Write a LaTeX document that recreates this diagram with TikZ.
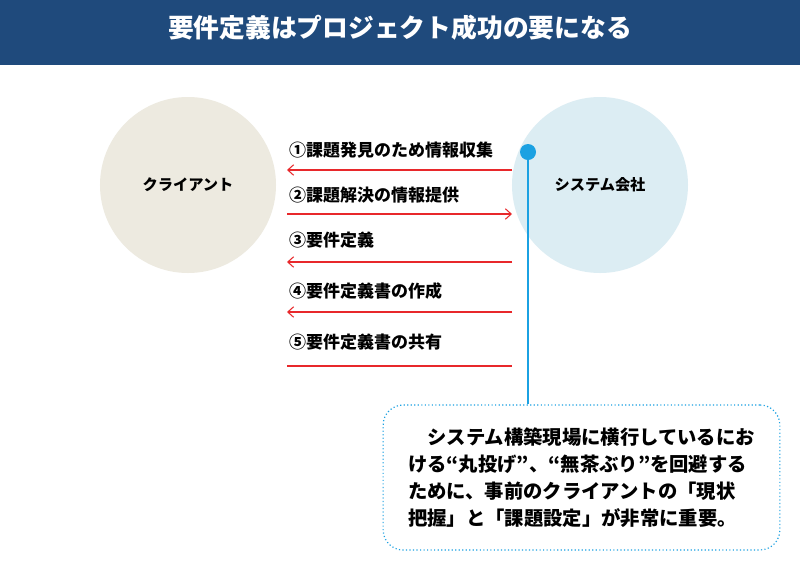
\documentclass[tikz,border=0pt]{standalone}
\usepackage{fontspec}
\setmainfont{Noto Sans CJK JP}
\usetikzlibrary{positioning,arrows.meta}
\definecolor{titleblue}{HTML}{1F4A7C}
\definecolor{clientbg}{HTML}{EDEAE0}
\definecolor{systembg}{HTML}{DCEDF3}
\definecolor{dotblue}{HTML}{1BA1E2}
\definecolor{arrowred}{HTML}{E8282B}
\tikzset{
  party/.style={circle,minimum size=5.28cm,inner sep=0pt,font=\fontsize{13}{15}\selectfont\bfseries},
  steplabel/.style={anchor=west,inner sep=0pt,font=\fontsize{14.5}{17}\selectfont\bfseries},
  flow/.style={draw=arrowred,line width=0.9pt,-{Straight Barb[length=5pt,width=9pt]}},
}
\begin{document}
\begin{tikzpicture}[x=0.03cm,y=-0.03cm]
\useasboundingbox (0,0) rectangle (800,577);
\fill[white] (0,0) rectangle (800,577);
\fill[titleblue] (0,0) rectangle (800,65);
\node[text=white,font=\fontsize{22}{26}\selectfont\bfseries] (title) at (400,28) {要件定義はプロジェクト成功の要になる};

\node[party,fill=clientbg] (client) at (188,185) {クライアント};
\node[party,fill=systembg] (system) at (600,185) {システム会社};

% steps
\foreach \y/\lab in {150/①課題発見のため情報収集,195/②課題解決の情報提供,240/③要件定義,291/④要件定義書の作成,342/⑤要件定義書の共有} {
  \node[steplabel] at (289,\y) {\lab};
}
\coordinate (l1) at (287,170); \coordinate (r1) at (512,170);
\coordinate (l2) at (287,214); \coordinate (r2) at (512,214);
\coordinate (l3) at (287,262); \coordinate (r3) at (512,262);
\coordinate (l4) at (287,312); \coordinate (r4) at (512,312);
\coordinate (l5) at (287,366); \coordinate (r5) at (512,366);
\draw[flow] (r1) -- (l1);
\draw[flow] (l2) -- (r2);
\draw[flow] (r3) -- (l3);
\draw[flow] (r4) -- (l4);
\draw[flow,-] (l5) -- (r5);

% note
\node[draw=dotblue,dotted,line width=1pt,rounded corners=0.6cm,minimum width=11.9cm,minimum height=4.35cm,
  align=left,font=\fontsize{16.5}{23}\selectfont\bfseries] (note) at (581.5,477.5)
  {\hspace*{1em}システム構築現場に横行しているにお\\ける“丸投げ”、“無茶ぶり”を回避する\\ために、事前のクライアントの「現状\\把握」と「課題設定」が非常に重要。};
\node[circle,fill=dotblue,minimum size=0.48cm,inner sep=0pt] (dot) at (528,152) {};
\draw[dotblue,line width=1.5pt] (dot) -- (dot |- note.north);
\end{tikzpicture}
\end{document}
